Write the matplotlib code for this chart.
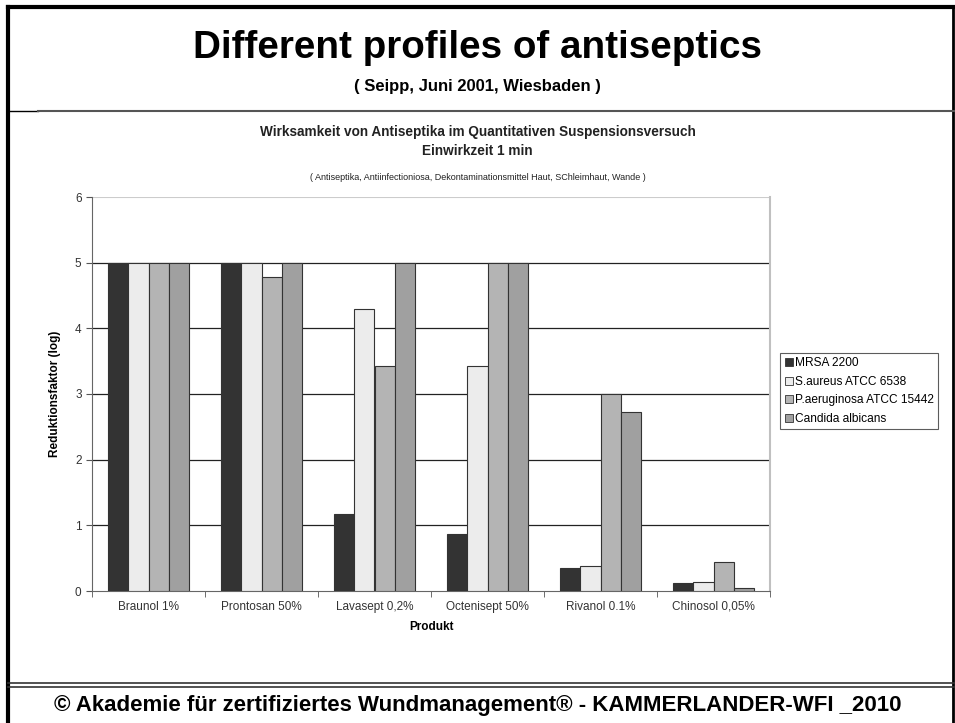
import numpy as np
import matplotlib.pyplot as plt
from matplotlib.lines import Line2D

plt.rcParams['font.family'] = ['Liberation Sans', 'DejaVu Sans']

products = ['Braunol 1%', 'Prontosan 50%', 'Lavasept 0,2%', 'Octenisept 50%', 'Rivanol 0.1%', 'Chinosol 0,05%']
series = ['MRSA 2200', 'S.aureus ATCC 6538', 'P.aeruginosa ATCC 15442', 'Candida albicans']
mrsa = [5, 5, 1.17, 0.87, 0.35, 0.12]
saureus = [5, 5, 4.29, 3.42, 0.38, 0.14]
paerug = [5, 4.78, 3.43, 5, 3.0, 0.44]
candida = [5, 5, 5, 5, 2.73, 0.05]
colors = ['#333333', '#ececec', '#b4b4b4', '#a0a0a0']

fig = plt.figure(figsize=(9.55, 7.23), dpi=100)

# frame lines of the slide
frame = fig.add_axes([0, 0, 1, 1])
frame.set_xlim(0, 955)
frame.set_ylim(723, 0)
frame.axis('off')
frame.plot([8, 8], [7, 723], color='black', lw=3)
frame.plot([8, 955], [7, 7], color='black', lw=3)
frame.plot([953, 953], [7, 723], color='black', lw=2)
frame.plot([8, 38], [111, 111], color='black', lw=1)
frame.plot([38, 955], [111, 111], color='#555555', lw=1.5)
frame.plot([8, 955], [683, 683], color='#333333', lw=1.2)
frame.plot([8, 955], [687, 687], color='#333333', lw=1.2)

fig.text(0.5, 1 - 48 / 723, 'Different profiles of antiseptics', ha='center', va='center',
         fontsize=27.8, fontweight='bold')
fig.text(0.5, 1 - 87 / 723, '( Seipp, Juni 2001, Wiesbaden )', ha='center', va='center',
         fontsize=12, fontweight='bold')
fig.text(0.5, 1 - 132 / 723, 'Wirksamkeit von Antiseptika im Quantitativen Suspensionsversuch',
         ha='center', va='center', fontsize=9.8, fontweight='bold', color='#222222')
fig.text(0.5, 1 - 151 / 723, 'Einwirkzeit 1 min', ha='center', va='center',
         fontsize=9.8, fontweight='bold', color='#222222')
fig.text(0.5, 1 - 178 / 723, '( Antiseptika, Antiinfectioniosa, Dekontaminationsmittel Haut, SChleimhaut, Wande )',
         ha='center', va='center', fontsize=6.5, color='#222222')
fig.text(0.5, 1 - 705 / 723, '\u00a9 Akademie f\u00fcr zertifiziertes Wundmanagement\u00ae - KAMMERLANDER-WFI _2010',
         ha='center', va='center', fontsize=16, fontweight='bold')

ax = fig.add_axes([92 / 955, 1 - 591 / 723, (770 - 92) / 955, (591 - 197) / 723])
x = np.arange(len(products))
w = 0.18
for i, (vals, c, name) in enumerate(zip([mrsa, saureus, paerug, candida], colors, series)):
    ax.bar(x + (i - 1.5) * w, vals, width=w, color=c, edgecolor='#333333', linewidth=0.8,
           label=name, zorder=3)

ax.set_xlim(-0.5, len(products) - 0.5)
ax.set_ylim(0, 6)
ax.set_yticks(range(7))
ax.set_xticks(x)
ax.set_xticklabels(products)
ax.set_xticks(np.arange(len(products) + 1) - 0.5, minor=True)
ax.tick_params(axis='x', which='major', length=0, pad=7, labelsize=8.5, labelcolor='#333333')
ax.tick_params(axis='x', which='minor', length=4, direction='out', color='#555555')
ax.tick_params(axis='y', length=4, labelsize=8.5, labelcolor='#333333', color='#555555')
for y in range(1, 6):
    ax.axhline(y, color='#222222', lw=0.9, zorder=1)
ax.axhline(6, color='#cccccc', lw=0.8, zorder=1)
ax.spines['top'].set_visible(False)
ax.spines['right'].set_color('#c0c0c0')
ax.spines['right'].set_linewidth(1.5)
ax.spines['left'].set_color('#666666')
ax.spines['bottom'].set_color('#666666')
ax.set_ylabel('Reduktionsfaktor (log)', fontsize=8.5, fontweight='bold', labelpad=10)
ax.set_xlabel('Produkt', fontsize=8.5, fontweight='bold', labelpad=6)

handles = [Line2D([], [], marker='s', ls='none', markersize=6, markerfacecolor=c,
                  markeredgecolor='#333333', markeredgewidth=0.6) for c in colors]
leg = fig.legend(handles, series, loc='center left', bbox_to_anchor=(780 / 955, 1 - 391 / 723),
                 fontsize=8.6, frameon=True, fancybox=False, handletextpad=0.1, borderpad=0.35,
                 handlelength=0.8, labelspacing=0.55, borderaxespad=0)
leg.get_frame().set_edgecolor('#333333')
leg.get_frame().set_linewidth(0.8)

fig.savefig('out.png', dpi=100)
